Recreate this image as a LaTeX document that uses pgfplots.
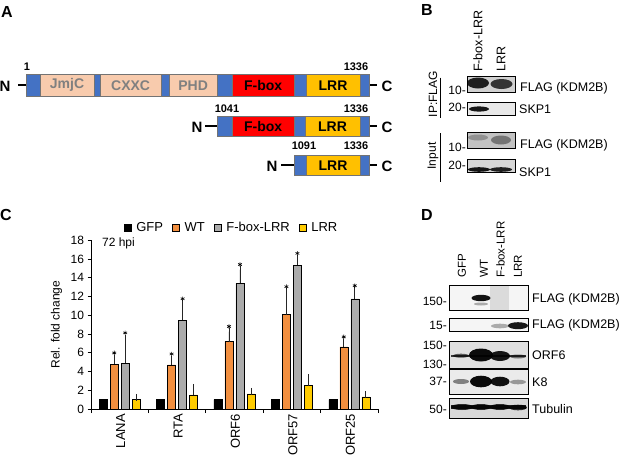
\documentclass[border=0pt]{standalone}
\usepackage{fontspec}
\setmainfont{Liberation Sans}
\usepackage{pgfplots}
\pgfplotsset{compat=1.18}
\newcommand\fs[1]{\fontsize{#1}{#1}\selectfont}
\definecolor{dblue}{HTML}{4472C4}
\definecolor{peach}{HTML}{F8CBAD}
\definecolor{fred}{HTML}{FF0000}
\definecolor{lrr}{HTML}{FFC000}
\definecolor{barwt}{HTML}{F28F3F}
\definecolor{bargray}{HTML}{ABABAB}
\definecolor{baryel}{HTML}{FFCC00}
\newcommand\seg[5]{\filldraw[fill=#5, draw=black!55, line width=0.6pt] (#1,#3) rectangle (#2,#4);}
\newcommand\band[5]{\fill[black, opacity=#5] (#1,#2) ellipse ({#3} and {#4});}

\begin{document}
\begin{tikzpicture}
\useasboundingbox (0pt,0pt) rectangle (625pt,-459pt);
\begin{scope}[x=1pt, y=-1pt, every node/.style={inner sep=0pt}]
% panel letters
\node[font=\fs{16}\bfseries] at (7,12) {A};
\node[font=\fs{16}\bfseries] at (427,10) {B};
\node[font=\fs{16}\bfseries] at (6,215) {C};
\node[font=\fs{16}\bfseries] at (427,215) {D};

% ---- A: domain maps
% row 1
\draw[line width=2.2pt] (18,85.3) -- (27,85.3);
\draw[line width=2.2pt] (369,85.3) -- (377,85.3);
\seg{26.7}{369}{74.7}{96}{dblue}
\seg{40}{94}{74.7}{96}{peach}
\seg{100}{161.3}{74.7}{96}{peach}
\seg{169}{217.3}{74.7}{96}{peach}
\seg{232.3}{294}{74.7}{96}{fred}
\seg{306}{360}{74.7}{96}{lrr}
\node[font=\fs{14}\bfseries, text=black!50] at (67,85.3) {JmjC};
\node[font=\fs{14}\bfseries, text=black!50] at (130.6,85.3) {CXXC};
\node[font=\fs{14}\bfseries, text=black!50] at (193.1,85.3) {PHD};
\node[font=\fs{14}\bfseries] at (263.1,85.3) {F-box};
\node[font=\fs{14}\bfseries] at (333,85.3) {LRR};
\node[font=\fs{15}\bfseries] at (5,86) {N};
\node[font=\fs{15}\bfseries] at (387,86) {C};
\node[font=\fs{11}\bfseries] at (27,67) {1};
\node[font=\fs{11}\bfseries] at (356,67) {1336};
% row 2
\draw[line width=2.2pt] (205,126.3) -- (218,126.3);
\draw[line width=2.2pt] (369,126.3) -- (377,126.3);
\seg{217.3}{369}{116}{136.7}{dblue}
\seg{232.3}{294}{116}{136.7}{fred}
\seg{305}{360}{116}{136.7}{lrr}
\node[font=\fs{14}\bfseries] at (263.1,126.3) {F-box};
\node[font=\fs{14}\bfseries] at (332.5,126.3) {LRR};
\node[font=\fs{15}\bfseries] at (197,127) {N};
\node[font=\fs{15}\bfseries] at (387,127) {C};
\node[font=\fs{11}\bfseries] at (227,108.7) {1041};
\node[font=\fs{11}\bfseries] at (356,108.7) {1336};
% row 3
\draw[line width=2.2pt] (281,165.2) -- (295,165.2);
\draw[line width=2.2pt] (369,165.2) -- (377,165.2);
\seg{294.3}{369}{155}{175.5}{dblue}
\seg{306}{360}{155}{175.5}{lrr}
\node[font=\fs{14}\bfseries] at (333,165.2) {LRR};
\node[font=\fs{15}\bfseries] at (272,166) {N};
\node[font=\fs{15}\bfseries] at (387,166) {C};
\node[font=\fs{11}\bfseries] at (304,146) {1091};
\node[font=\fs{11}\bfseries] at (356,146) {1336};

% ---- B: IP blots
\node[font=\fs{12.5}, rotate=90, anchor=west] at (478,72) {F-box-LRR};
\node[font=\fs{12.5}, rotate=90, anchor=west] at (501,72) {LRR};
\filldraw[fill=black!18, draw=black, line width=0.6pt] (467.7,76) rectangle (515,92);
\band{478}{83}{11}{5.5}{0.85}
\band{501.5}{84}{11}{5}{0.75}
\filldraw[fill=black!9, draw=black, line width=0.6pt] (467.7,102.7) rectangle (515,115.3);
\band{479}{109}{10}{2.6}{0.9}
\filldraw[fill=black!24, draw=black, line width=0.6pt] (467.7,132.7) rectangle (515,148.3);
\band{478}{137.5}{10}{3}{0.25}
\band{501}{140}{10}{4.5}{0.4}
\filldraw[fill=black!16, draw=black, line width=0.6pt] (467.7,159.3) rectangle (515,172);
\band{479}{169.5}{11}{2.3}{0.9}
\band{501}{169.5}{11}{2.3}{0.85}
\node[font=\fs{12}, anchor=east] at (466,90) {10-};
\node[font=\fs{12}, anchor=east] at (466,107) {20-};
\node[font=\fs{12}, anchor=east] at (466,147) {10-};
\node[font=\fs{12}, anchor=east] at (466,165.5) {20-};
\node[font=\fs{12.5}, anchor=west] at (520,88) {FLAG (KDM2B)};
\node[font=\fs{12.5}, anchor=west] at (519,109) {SKP1};
\node[font=\fs{12.5}, anchor=west] at (520,145) {FLAG (KDM2B)};
\node[font=\fs{12.5}, anchor=west] at (519,172) {SKP1};
\node[font=\fs{12}, rotate=90] at (433,94) {IP:FLAG};
\draw[line width=0.8pt] (440,77.7) -- (440,118);
\node[font=\fs{12}, rotate=90] at (433,156) {Input};
\draw[line width=0.8pt] (440,133) -- (440,181.7);

% ---- D: whole-cell blots
\node[font=\fs{11.5}, rotate=90, anchor=west] at (462,278) {GFP};
\node[font=\fs{11.5}, rotate=90, anchor=west] at (484,278) {WT};
\node[font=\fs{11.5}, rotate=90, anchor=west] at (500.5,278) {F-box-LRR};
\node[font=\fs{11.5}, rotate=90, anchor=west] at (518,278) {LRR};
\filldraw[fill=black!4, draw=black, line width=0.6pt] (449,285) rectangle (528.3,310);
\fill[black!14] (490,285.5) rectangle (509,309.5);
\band{481}{298}{9.5}{3.2}{0.92}
\band{481}{304}{7}{1.5}{0.3}
\draw[black, line width=0.6pt] (449,285) rectangle (528.3,310);
\filldraw[fill=black!4, draw=black, line width=0.6pt] (449,318.3) rectangle (528.3,331.7);
\band{500}{326}{9}{2.3}{0.3}
\band{518}{325.7}{10}{3.5}{0.9}
\filldraw[fill=black!12, draw=black, line width=0.6pt] (449,341) rectangle (528.3,368.3);
\fill[black, opacity=0.75] (451,354.5) rectangle (526,357);
\band{481}{355}{12}{6.5}{0.95}
\band{500}{356}{10}{5}{0.9}
\band{461}{355.7}{8}{2}{0.6}
\band{518}{356.5}{8}{2}{0.5}
\filldraw[fill=black!8, draw=black, line width=0.6pt] (449,369.3) rectangle (528.3,394);
\band{461}{381.5}{8}{2.5}{0.45}
\band{481}{381.5}{11}{5.8}{0.95}
\band{500}{381.5}{9.5}{4.8}{0.92}
\band{518}{382}{8}{2.3}{0.35}
\filldraw[fill=black!15, draw=black, line width=0.6pt] (449,398.3) rectangle (528.3,418.3);
\fill[black, opacity=0.85] (451,405) rectangle (526,409);
\band{462}{407}{11}{3}{0.8}
\band{481}{407}{10}{3}{0.8}
\band{500}{407}{10}{3}{0.8}
\band{518}{407.5}{9}{2.8}{0.8}
\node[font=\fs{12}, anchor=east] at (447,301.7) {150-};
\node[font=\fs{12}, anchor=east] at (447,325.7) {15-};
\node[font=\fs{12}, anchor=east] at (447,345) {150-};
\node[font=\fs{12}, anchor=east] at (447,364.3) {130-};
\node[font=\fs{12}, anchor=east] at (447,381.7) {37-};
\node[font=\fs{12}, anchor=east] at (447,409) {50-};
\node[font=\fs{12.5}, anchor=west] at (532,299.3) {FLAG (KDM2B)};
\node[font=\fs{12.5}, anchor=west] at (532,325.7) {FLAG (KDM2B)};
\node[font=\fs{12.5}, anchor=west] at (532,355.3) {ORF6};
\node[font=\fs{12.5}, anchor=west] at (532,381.7) {K8};
\node[font=\fs{12.5}, anchor=west] at (532,409.3) {Tubulin};
\end{scope}

% ---- C: qPCR bar chart (bars placed at explicit offsets within each gene group)
\begin{axis}[
    at={(91pt,-409pt)}, anchor=south west,
    scale only axis, width=287pt, height=168.75pt,
    xmin=-0.5, xmax=4.5, ymin=0, ymax=18,
    clip=false,
    axis x line*=bottom, axis y line*=left,
    axis line style={black, line width=0.7pt},
    tick align=outside,
    ytick={0,2,...,18},
    xtick={0,1,2,3,4},
    xticklabels={LANA,RTA,ORF6,ORF57,ORF25},
    minor xtick={-0.5,0.5,1.5,2.5,3.5,4.5},
    major x tick style={draw=none},
    minor x tick style={black, line width=0.7pt},
    minor tick length=4pt,
    major tick length=3.5pt,
    ytick style={black, line width=0.7pt},
    /pgf/number format/assume math mode=true,
    yticklabel style={font=\fs{12}},
    xticklabel style={font=\fs{13}, rotate=90, anchor=east, xshift=2pt, yshift=-1pt},
    ylabel={Rel. fold change},
    every axis y label/.style={at={(axis description cs:-0.12,0.5)}, rotate=90, anchor=center, font=\fs{12}},
    legend columns=4,
    legend style={draw=none, fill=none, at={(0.49,1)}, anchor=south, yshift=3pt,
        font=\fs{13},
        /tikz/every odd column/.append style={column sep=3pt},
        /tikz/every even column/.append style={column sep=7pt}},
    legend image code/.code={\draw[#1, draw=black, line width=0.5pt] (0pt,-3.5pt) rectangle (7pt,3.5pt);},
    error bars/error bar style={black!85, line width=0.7pt},
    error bars/error mark options={black!85, line width=0.7pt, mark size=3.5pt},
]
\addplot[ybar, bar width=8pt, bar shift=0pt, fill=black, draw=black, line width=0.5pt]
    coordinates {(-0.2875,1) (0.7125,1) (1.7125,1) (2.7125,1) (3.7125,1)};
\addlegendentry{GFP}
\addplot[ybar, bar width=8pt, bar shift=0pt, fill=barwt, draw=black, line width=0.5pt,
    error bars/.cd, y dir=plus, y explicit]
    coordinates {(-0.0958,4.80) +- (0,0.63) (0.9042,4.72) +- (0,0.60) (1.9042,7.18) +- (0,1.07)
                 (2.9042,10.07) +- (0,2.43) (3.9042,6.64) +- (0,0.50)};
\addlegendentry{WT}
\addplot[ybar, bar width=8pt, bar shift=0pt, fill=bargray, draw=black, line width=0.5pt,
    error bars/.cd, y dir=plus, y explicit]
    coordinates {(0.0958,4.86) +- (0,2.71) (1.0958,9.46) +- (0,1.75) (2.0958,13.39) +- (0,1.47)
                 (3.0958,15.32) +- (0,0.73) (4.0958,11.75) +- (0,0.85)};
\addlegendentry{F-box-LRR}
\addplot[ybar, bar width=8pt, bar shift=0pt, fill=baryel, draw=black, line width=0.5pt,
    error bars/.cd, y dir=plus, y explicit]
    coordinates {(0.2875,1.00) +- (0,0.25) (1.2875,1.52) +- (0,0.80) (2.2875,1.62) +- (0,0.25)
                 (3.2875,2.50) +- (0,0.82) (4.2875,1.30) +- (0,0.22)};
\addlegendentry{LRR}
% significance marks
\addplot[only marks, mark=asterisk, mark size=2.2pt, line width=0.6pt, black, forget plot]
    coordinates {(-0.0958,5.98) (0.9042,5.87) (1.9042,8.8) (2.9042,13.05) (3.9042,7.69)
                 (0.0958,8.12) (1.0958,11.76) (2.0958,15.41) (3.0958,16.6) (4.0958,13.15)};
\node[font=\fs{12}, anchor=west, inner sep=0pt] at (rel axis cs:0.038,0.984) {72 hpi};
\end{axis}
\end{tikzpicture}
\end{document}
